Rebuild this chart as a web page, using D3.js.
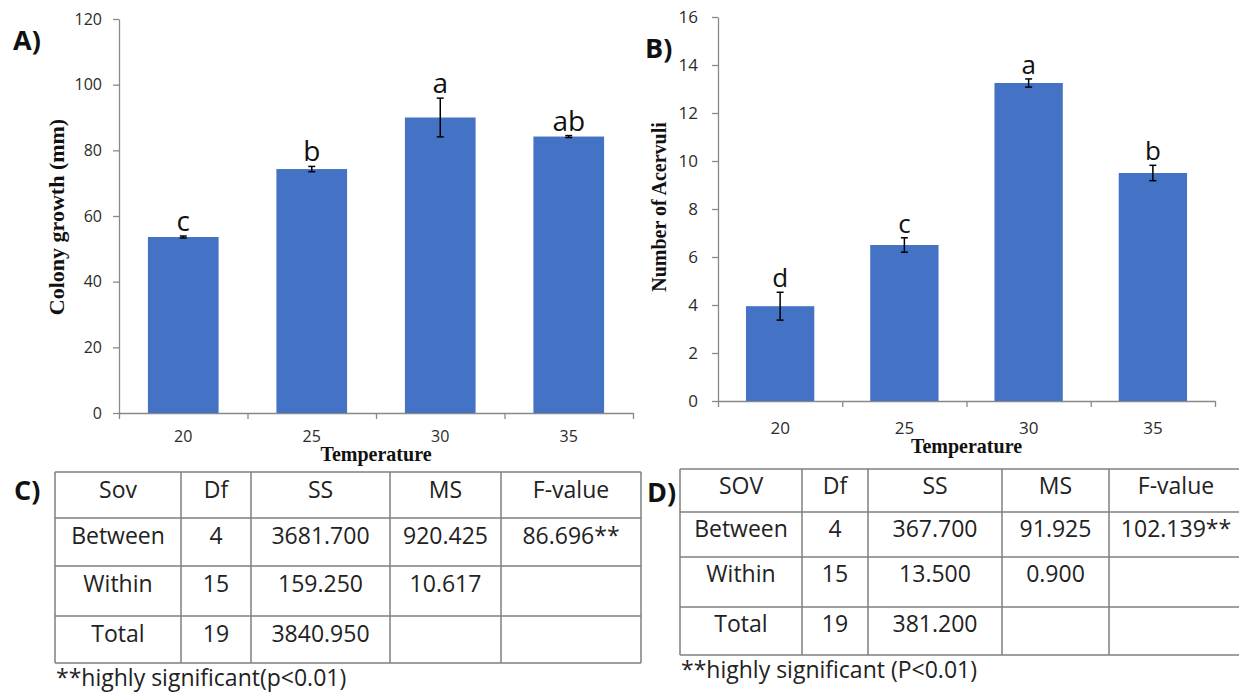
<!DOCTYPE html>
<html>
<head>
<meta charset="utf-8">
<script src="https://cdn.jsdelivr.net/npm/d3@7"></script>
<style>
  body { margin: 0; background: #fff; }
  svg { display: block; }
</style>
</head>
<body>
<svg width="1239" height="692"></svg>
<script>
var svg = d3.select("svg");

// data
var temps = ["20", "25", "30", "35"];
var colonyMean = [53.6, 74.3, 90.0, 84.2];
var colonyErr = [0.3, 0.8, 5.9, 0.3];
var colonyLetters = ["c", "b", "a", "ab"];
var colonyTicks = [0, 20, 40, 60, 80, 100, 120];

var acervuliMean = [3.95, 6.5, 13.25, 9.5];
var acervuliErr = [0.58, 0.3, 0.17, 0.32];
var acervuliLetters = ["d", "c", "a", "b"];
var acervuliTicks = [0, 2, 4, 6, 8, 10, 12, 14, 16];

var tableHeadC = ["Sov", "Df", "SS", "MS", "F-value"];
var tableRowsC = [
  ["Between", "4", "3681.700", "920.425", "86.696**"],
  ["Within", "15", "159.250", "10.617", ""],
  ["Total", "19", "3840.950", "", ""],
];
var noteC = "**highly significant(p<0.01)";

var tableHeadD = ["SOV", "Df", "SS", "MS", "F-value"];
var tableRowsD = [
  ["Between", "4", "367.700", "91.925", "102.139**"],
  ["Within", "15", "13.500", "0.900", ""],
  ["Total", "19", "381.200", "", ""],
];
var noteD = "**highly significant (P<0.01)";

var barColor = "#4472c4",
  axisColor = "#898989",
  sans = "'Open Sans', sans-serif",
  serif = "'Liberation Serif', 'Times New Roman', serif";

function barPanel(o) {
  var g = svg.append("g");
  var x = d3
    .scaleBand()
    .domain(temps)
    .range([o.x0, o.x1])
    .paddingInner(0.45)
    .paddingOuter(0.225);
  var y = d3.scaleLinear().domain([0, o.max]).range([o.yb, o.yt]);

  var yAxis = g
    .append("g")
    .attr("transform", "translate(" + o.x0 + ",0)")
    .call(
      d3.axisLeft(y).tickValues(o.ticks).tickSize(6).tickSizeOuter(0).tickPadding(o.yPad)
    );
  yAxis.selectAll("text").style("font-family", sans).style("font-size", o.tickFont + "px").attr("fill", "#2b2b2b");

  // x axis: ticks sit on the category boundaries
  var bound = d3.scaleLinear().domain([0, temps.length]).range([o.x0, o.x1]);
  g.append("g")
    .attr("transform", "translate(0," + o.yb + ")")
    .call(d3.axisBottom(bound).tickValues(d3.range(temps.length + 1)).tickSize(6).tickSizeOuter(0).tickFormat(""));
  var xLab = g
    .append("g")
    .attr("transform", "translate(0," + o.yb + ")")
    .call(d3.axisBottom(x).tickSize(0).tickPadding(o.xPad));
  xLab.select(".domain").remove();
  xLab.selectAll("text").style("font-family", sans).style("font-size", o.tickFont + "px").attr("fill", "#2b2b2b");

  g.selectAll(".domain, .tick line").attr("stroke", axisColor).attr("stroke-width", 1.3);

  g.append("g")
    .selectAll("rect")
    .data(o.mean)
    .enter()
    .append("rect")
    .attr("x", function (d, i) { return x(temps[i]); })
    .attr("y", function (d) { return y(d); })
    .attr("width", x.bandwidth())
    .attr("height", function (d) { return o.yb - y(d); })
    .attr("fill", barColor);

  // error bars
  var eb = g
    .append("g")
    .attr("stroke", "#000")
    .attr("stroke-width", 1.5)
    .selectAll("g")
    .data(o.mean)
    .enter()
    .append("g");
  function cx(i) { return x(temps[i]) + x.bandwidth() / 2; }
  eb.append("line")
    .attr("x1", function (d, i) { return cx(i); })
    .attr("x2", function (d, i) { return cx(i); })
    .attr("y1", function (d, i) { return y(d - o.err[i]); })
    .attr("y2", function (d, i) { return y(d + o.err[i]); });
  [-1, 1].forEach(function (s) {
    eb.append("line")
      .attr("x1", function (d, i) { return cx(i) - 3.5; })
      .attr("x2", function (d, i) { return cx(i) + 3.5; })
      .attr("y1", function (d, i) { return y(d + s * o.err[i]); })
      .attr("y2", function (d, i) { return y(d + s * o.err[i]); });
  });

  g.append("g")
    .selectAll("text")
    .data(o.letters)
    .enter()
    .append("text")
    .attr("x", function (d, i) { return cx(i); })
    .attr("y", function (d, i) { return y(o.mean[i] + o.err[i]) - 5; })
    .attr("text-anchor", "middle")
    .style("font-family", sans)
    .style("font-size", o.letterFont + "px")
    .attr("fill", "#111")
    .text(function (d) { return d; });

  g.append("text")
    .attr("x", (o.x0 + o.x1) / 2)
    .attr("y", o.xTitleY)
    .attr("text-anchor", "middle")
    .style("font-family", serif)
    .style("font-weight", "bold")
    .style("font-size", "20px")
    .attr("fill", "#111")
    .text("Temperature");

  g.append("text")
    .attr("transform", "translate(" + o.yTitleX + "," + o.yTitleY + ") rotate(-90)")
    .attr("text-anchor", "middle")
    .style("font-family", serif)
    .style("font-weight", "bold")
    .style("font-size", o.yTitleFont + "px")
    .attr("fill", "#111")
    .text(o.yTitle);

  g.append("text")
    .attr("x", o.tagX)
    .attr("y", o.tagY)
    .style("font-family", sans)
    .style("font-weight", "bold")
    .style("font-size", "27px")
    .attr("fill", "#111")
    .text(o.tag);
}

barPanel({
  x0: 119, x1: 633, yt: 19, yb: 413, max: 120,
  mean: colonyMean, err: colonyErr, letters: colonyLetters, ticks: colonyTicks,
  yPad: 11, xPad: 18, tickFont: 16, letterFont: 28,
  xTitleY: 461, yTitle: "Colony growth (mm)", yTitleX: 64, yTitleY: 217, yTitleFont: 22,
  tag: "A)", tagX: 13, tagY: 50,
});

barPanel({
  x0: 718, x1: 1215, yt: 17, yb: 401, max: 16,
  mean: acervuliMean, err: acervuliErr, letters: acervuliLetters, ticks: acervuliTicks,
  yPad: 14, xPad: 21, tickFont: 17, letterFont: 26,
  xTitleY: 453, yTitle: "Number of Acervuli", yTitleX: 666, yTitleY: 207, yTitleFont: 20,
  tag: "B)", tagX: 645, tagY: 58,
});

function anovaTable(o) {
  var g = svg.append("g");
  var rows = [o.head].concat(o.rows);
  var cols = o.cols, edges = o.edges;
  g.selectAll("line.h")
    .data(edges)
    .enter()
    .append("line")
    .attr("x1", cols[0])
    .attr("x2", cols[cols.length - 1])
    .attr("y1", function (d) { return d; })
    .attr("y2", function (d) { return d; });
  g.selectAll("line.v")
    .data(cols)
    .enter()
    .append("line")
    .attr("x1", function (d) { return d; })
    .attr("x2", function (d) { return d; })
    .attr("y1", edges[0])
    .attr("y2", edges[edges.length - 1]);
  g.selectAll("line").attr("stroke", "#7f7f7f").attr("stroke-width", 1.5);

  rows.forEach(function (r, ri) {
    g.append("g")
      .selectAll("text")
      .data(r)
      .enter()
      .append("text")
      .attr("x", function (d, ci) { return (cols[ci] + cols[ci + 1]) / 2; })
      .attr("y", edges[ri] + o.base)
      .attr("text-anchor", "middle")
      .style("font-family", sans)
      .style("font-size", "23px")
      .attr("fill", "#222")
      .text(function (d) { return d; });
  });

  g.append("text")
    .attr("x", cols[0] + 1)
    .attr("y", o.noteY)
    .style("font-family", sans)
    .style("font-size", "23px")
    .attr("fill", "#222")
    .text(o.note);

  g.append("text")
    .attr("x", o.tagX)
    .attr("y", o.tagY)
    .style("font-family", sans)
    .style("font-weight", "bold")
    .style("font-size", "27px")
    .attr("fill", "#111")
    .text(o.tag);
}

anovaTable({
  head: tableHeadC, rows: tableRowsC, note: noteC,
  cols: [55, 181, 251, 390, 501, 641],
  edges: [472, 518, 566, 616, 663],
  base: 26, noteY: 686, tag: "C)", tagX: 14, tagY: 500,
});

anovaTable({
  head: tableHeadD, rows: tableRowsD, note: noteD,
  cols: [680, 802, 868, 1002, 1109, 1243],
  edges: [469, 512, 557, 607, 655],
  base: 25, noteY: 678, tag: "D)", tagX: 647, tagY: 502,
});
</script>
</body>
</html>
